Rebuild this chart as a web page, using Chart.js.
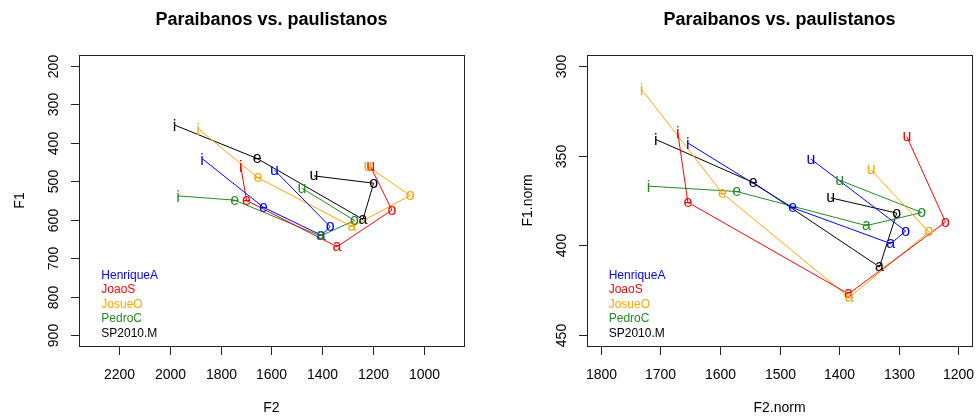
<!DOCTYPE html>
<html>
<head>
<meta charset="utf-8">
<script src="https://cdn.jsdelivr.net/npm/chart.js@4.4.1/dist/chart.umd.min.js"></script>
<style>
    html, body { margin: 0; padding: 0; background: #fff; }
    #wrap { position: relative; width: 976px; height: 420px; }
    .panel { position: absolute; top: 0; width: 488px; height: 420px; }
</style>
</head>
<body>
<div id="wrap">
    <div class="panel" style="left:0"><canvas id="rawChart" width="488" height="420"></canvas></div>
    <div class="panel" style="left:488px"><canvas id="normChart" width="488" height="420"></canvas></div>
</div>
<script>
const vowels = ['i', 'e', 'a', 'o', 'u'];
const speakers = ['HenriqueA', 'JoaoS', 'JosueO', 'PedroC', 'SP2010.M'];
const speakerColors = ['#0000ff', '#ff0000', '#ffa500', '#228b22', '#000000'];

// raw formants (Hz), vowel order i e a o u
const f2HenriqueA = [1873, 1631, 1404, 1369, 1588];
const f1HenriqueA = [441, 568, 640, 618, 471];
const f2JoaoS = [1721, 1698, 1342, 1126, 1210];
const f1JoaoS = [460, 550, 670, 575, 462];
const f2JosueO = [1889, 1653, 1283, 1054, 1220];
const f1JosueO = [363, 491, 618, 537, 462];
const f2PedroC = [1968, 1745, 1407, 1273, 1480];
const f1PedroC = [538, 549, 642, 602, 518];
const f2SP2010 = [1981, 1656, 1240, 1198, 1433];
const f1SP2010 = [354, 441, 599, 505, 486];

// normalized formants
const f2nHenriqueA = [1654, 1478, 1313, 1288, 1447];
const f1nHenriqueA = [343, 379, 399, 392, 352];
const f2nJoaoS = [1671, 1654, 1384, 1221, 1286];
const f1nJoaoS = [337, 376, 427, 387, 339.5];
const f2nJosueO = [1732, 1596, 1383, 1249, 1346];
const f1nJosueO = [313, 371, 429, 392.5, 358];
const f2nPedroC = [1720, 1572, 1354, 1261, 1399];
const f1nPedroC = [367, 370, 389, 381.7, 363.7];
const f2nSP2010 = [1708, 1544, 1332, 1303, 1414];
const f1nSP2010 = [341, 365, 412, 382, 373.5];

// axis limits and ticks
const rawXLim = [2300, 900];
const rawYLim = [200, 900];
const rawXTicks = [2200, 2000, 1800, 1600, 1400, 1200, 1000];
const rawYTicks = [200, 300, 400, 500, 600, 700, 800, 900];
const normXLim = [1800, 1200];
const normYLim = [300, 450];
const normXTicks = [1800, 1700, 1600, 1500, 1400, 1300, 1200];
const normYTicks = [300, 350, 400, 450];

const FONT = '"Liberation Sans", Arial, Helvetica, sans-serif';

// R-style 4% range extension
function extend(lim) {
    const lo = Math.min(...lim), hi = Math.max(...lim), d = (hi - lo) * 0.04;
    return [lo - d, hi + d];
}

// draw text centred on its ink box
function inkText(ctx, str, x, y, rot) {
    ctx.save();
    ctx.translate(x, y);
    if (rot) ctx.rotate(rot);
    ctx.textAlign = 'center';
    ctx.textBaseline = 'alphabetic';
    const m = ctx.measureText(str);
    ctx.fillText(str, 0, (m.actualBoundingBoxAscent - m.actualBoundingBoxDescent) / 2);
    ctx.restore();
}

const rFrame = {
    id: 'rFrame',
    afterDatasetsDraw(chart, args, o) {
        const ctx = chart.ctx;
        ctx.save();
        ctx.font = '16px ' + FONT;
        chart.data.datasets.forEach((ds, k) => {
            const meta = chart.getDatasetMeta(k);
            ctx.fillStyle = ds.borderColor;
            meta.data.forEach((pt, i) => inkText(ctx, ds.data[i].vowel, pt.x, pt.y));
        });
        ctx.restore();
    },
    afterDraw(chart, args, o) {
        const ctx = chart.ctx;
        const a = chart.chartArea;
        const xs = chart.scales.x, ys = chart.scales.y;
        const L = Math.round(a.left) + 0.5, T = Math.round(a.top) + 0.5;
        const R = Math.round(a.right) + 0.5, B = Math.round(a.bottom) + 0.5;
        ctx.save();
        ctx.strokeStyle = '#222';
        ctx.lineWidth = 1;
        ctx.strokeRect(L, T, R - L, B - T);

        ctx.fillStyle = '#000';
        ctx.font = '14px ' + FONT;
        o.xTicks.forEach(v => {
            const px = Math.round(xs.getPixelForValue(v)) + 0.5;
            ctx.beginPath(); ctx.moveTo(px, B); ctx.lineTo(px, B + 8.5); ctx.stroke();
            inkText(ctx, String(v), px, a.bottom + 27.5);
        });
        o.yTicks.forEach(v => {
            const py = Math.round(ys.getPixelForValue(v)) + 0.5;
            ctx.beginPath(); ctx.moveTo(L, py); ctx.lineTo(L - 8.5, py); ctx.stroke();
            inkText(ctx, String(v), a.left - 26, py, -Math.PI / 2);
        });

        // axis titles
        inkText(ctx, o.xLabel, (a.left + a.right) / 2, a.bottom + 61);
        inkText(ctx, o.yLabel, a.left - 60, (a.top + a.bottom) / 2, -Math.PI / 2);

        // main title
        ctx.font = 'bold 18px ' + FONT;
        inkText(ctx, o.title, (a.left + a.right) / 2, 20);

        // speaker key, bottom left inside the box
        ctx.font = '12px ' + FONT;
        ctx.textAlign = 'left';
        ctx.textBaseline = 'alphabetic';
        speakers.forEach((name, k) => {
            ctx.fillStyle = speakerColors[k];
            const cy = a.bottom - 13.7 - (speakers.length - 1 - k) * 14.5;
            ctx.fillText(name, a.left + 22, cy + 4.3);
        });
        ctx.restore();
    }
};

function buildVowelChart(canvas, cfg) {
    const datasets = speakers.map((name, k) => ({
        label: name,
        data: cfg.x[k].map((v, i) => ({ x: v, y: cfg.y[k][i], vowel: vowels[i] })),
        showLine: true,
        borderColor: speakerColors[k],
        backgroundColor: speakerColors[k],
        borderWidth: 1,
        pointRadius: 0,
        pointHoverRadius: 0,
        tension: 0
    }));
    const xr = extend(cfg.xlim), yr = extend(cfg.ylim);
    new Chart(canvas, {
        type: 'scatter',
        data: { datasets },
        options: {
            responsive: false,
            animation: false,
            events: [],
            layout: { padding: cfg.padding },
            plugins: {
                legend: { display: false },
                tooltip: { enabled: false },
                rFrame: { title: cfg.title, xLabel: cfg.xLabel, yLabel: cfg.yLabel, xTicks: cfg.xTicks, yTicks: cfg.yTicks }
            },
            scales: {
                x: { type: 'linear', display: false, reverse: true, min: xr[0], max: xr[1] },
                y: { type: 'linear', display: false, reverse: true, min: yr[0], max: yr[1] }
            }
        },
        plugins: [rFrame]
    });
}

buildVowelChart(document.getElementById('rawChart'), {
    x: [f2HenriqueA, f2JoaoS, f2JosueO, f2PedroC, f2SP2010],
    y: [f1HenriqueA, f1JoaoS, f1JosueO, f1PedroC, f1SP2010],
    xlim: rawXLim, ylim: rawYLim, xTicks: rawXTicks, yTicks: rawYTicks,
    title: 'Paraibanos vs. paulistanos', xLabel: 'F2', yLabel: 'F1',
    padding: { left: 79.3, right: 24.4, top: 55, bottom: 74 }
});

buildVowelChart(document.getElementById('normChart'), {
    x: [f2nHenriqueA, f2nJoaoS, f2nJosueO, f2nPedroC, f2nSP2010],
    y: [f1nHenriqueA, f1nJoaoS, f1nJosueO, f1nPedroC, f1nSP2010],
    xlim: normXLim, ylim: normYLim, xTicks: normXTicks, yTicks: normYTicks,
    title: 'Paraibanos vs. paulistanos', xLabel: 'F2.norm', yLabel: 'F1.norm',
    padding: { left: 98.7, right: 3.7, top: 55, bottom: 74 }
});
</script>
</body>
</html>
